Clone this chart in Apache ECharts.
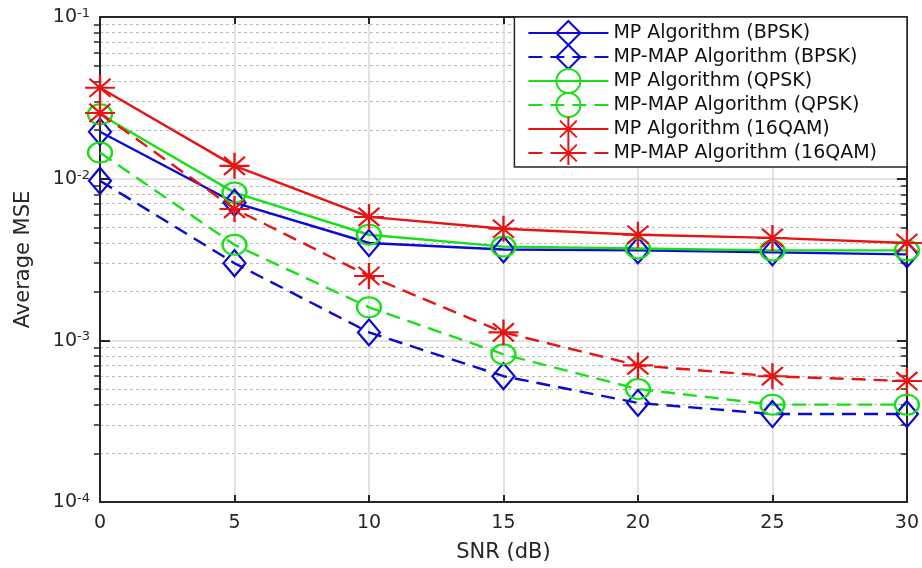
<!DOCTYPE html>
<html>
<head>
<meta charset="utf-8">
<script src="https://cdn.jsdelivr.net/npm/echarts@6/dist/echarts.min.js"></script>
<style>
  html, body { margin: 0; padding: 0; background: #fff; }
  #chart { width: 922px; height: 568px; }
</style>
</head>
<body>
<div id="chart"></div>
<script>
// SNR 横轴
const snr = [0, 5, 10, 15, 20, 25, 30];
// 各算法平均 MSE
const mpBpsk = [0.0195, 0.0071, 0.0040, 0.00365, 0.0036, 0.0035, 0.0034];
const mapBpsk = [0.0097, 0.0030, 0.00112, 0.00060, 0.00041, 0.00035, 0.00035];
const mpQpsk = [0.025, 0.0082, 0.0045, 0.0038, 0.0037, 0.0036, 0.0036];
const mapQpsk = [0.0145, 0.0039, 0.0016, 0.00082, 0.00050, 0.00040, 0.00040];
const mp16 = [0.0365, 0.012, 0.0058, 0.0049, 0.0045, 0.0043, 0.0040];
const map16 = [0.0255, 0.0065, 0.0025, 0.00112, 0.00070, 0.00060, 0.00056];
// 刻度
const majorTicks = [0.0001, 0.001, 0.01, 0.1];
const minorTicks = [0.0002, 0.0003, 0.0004, 0.0005, 0.0006, 0.0007, 0.0008, 0.0009,
  0.002, 0.003, 0.004, 0.005, 0.006, 0.007, 0.008, 0.009,
  0.02, 0.03, 0.04, 0.05, 0.06, 0.07, 0.08, 0.09];

const FONT = 'DejaVu Sans';
const TXT = '#262626';
const BLUE = '#0a0ad2';
const GREEN = '#18e018';
const RED = '#e81414';
const DIAMOND = 'diamond';
const CIRCLE = 'path://M0,10A10,10 0 1 1 20,10A10,10 0 1 1 0,10Z';
const STAR = 'path://M0,10L20,10M10,0L10,20M3,3L17,17M17,3L3,17';

function mk(name, arr, color, dashed, symbol, size) {
  return {
    name: name,
    type: 'line',
    data: snr.map((x, i) => [x, arr[i]]),
    symbol: symbol,
    symbolSize: size,
    showAllSymbol: true,
    lineStyle: { color: color, width: 2.4, type: dashed ? [14, 8] : 'solid' },
    itemStyle: { color: 'transparent', borderColor: color, borderWidth: 2.2 }
  };
}

let chart = echarts.init(document.getElementById('chart'));
chart.setOption({
  animation: false,
  textStyle: { fontFamily: FONT },
  grid: { left: 100, right: 15, top: 17, bottom: 65 },
  legend: {
    orient: 'vertical',
    right: 15,
    top: 17,
    itemWidth: 80,
    itemHeight: 30,
    itemGap: -2,
    padding: [3, 30, 1, 13],
    backgroundColor: '#fff',
    borderColor: TXT,
    borderWidth: 1.5,
    borderRadius: 0,
    textStyle: { fontFamily: FONT, fontSize: 19, color: '#111' },
    data: ['MP Algorithm (BPSK)', 'MP-MAP Algorithm (BPSK)', 'MP Algorithm (QPSK)',
      'MP-MAP Algorithm (QPSK)', 'MP Algorithm (16QAM)', 'MP-MAP Algorithm (16QAM)']
  },
  xAxis: [
    {
      type: 'value', min: 0, max: 30, interval: 5,
      name: 'SNR (dB)', nameLocation: 'middle', nameGap: 40,
      nameTextStyle: { fontFamily: FONT, fontSize: 21, color: TXT },
      axisLine: { lineStyle: { color: TXT, width: 2 } },
      axisTick: { inside: true, length: 7, lineStyle: { color: TXT, width: 2 } },
      axisLabel: { fontFamily: FONT, fontSize: 19, color: TXT, margin: 12 },
      splitLine: { show: true, lineStyle: { color: '#dadada', width: 1.5 } }
    },
    {
      type: 'value', position: 'top', min: 0, max: 30, interval: 5,
      axisLine: { lineStyle: { color: TXT, width: 2 } },
      axisTick: { inside: true, length: 7, lineStyle: { color: TXT, width: 2 } },
      axisLabel: { show: false },
      splitLine: { show: false }
    }
  ],
  yAxis: [
    {
      type: 'log', logBase: 10, min: 0.0001, max: 0.1,
      name: 'Average MSE', nameLocation: 'middle', nameGap: 66, nameRotate: 90,
      nameTextStyle: { fontFamily: FONT, fontSize: 21, color: TXT },
      axisLine: { lineStyle: { color: TXT, width: 2 } },
      axisTick: { inside: true, length: 10, customValues: majorTicks, lineStyle: { color: TXT, width: 2 } },
      axisLabel: {
        customValues: majorTicks,
        margin: 10,
        formatter: function (v) {
          return '{b|10}{s|' + Math.round(Math.log10(v)) + '}';
        },
        rich: {
          b: { fontFamily: FONT, fontSize: 19, color: TXT, lineHeight: 20, verticalAlign: 'bottom' },
          s: { fontFamily: FONT, fontSize: 13, color: TXT, lineHeight: 14, verticalAlign: 'top', padding: [0, 0, 14, 0] }
        }
      },
      splitLine: { show: true, lineStyle: { color: '#dadada', width: 1.5 } }
    },
    {
      type: 'log', logBase: 10, min: 0.0001, max: 0.1,
      axisLine: { show: false },
      axisTick: { inside: true, length: 6, customValues: minorTicks, lineStyle: { color: TXT, width: 1.5 } },
      axisLabel: { show: false },
      splitLine: { show: true, lineStyle: { color: '#b8b8b8', width: 1, type: [3, 3] } }
    },
    {
      type: 'log', logBase: 10, min: 0.0001, max: 0.1, position: 'right',
      axisLine: { lineStyle: { color: TXT, width: 2 } },
      axisTick: { inside: true, length: 10, customValues: majorTicks, lineStyle: { color: TXT, width: 2 } },
      axisLabel: { show: false },
      splitLine: { show: false }
    },
    {
      type: 'log', logBase: 10, min: 0.0001, max: 0.1, position: 'right',
      axisLine: { show: false },
      axisTick: { inside: true, length: 6, customValues: minorTicks, lineStyle: { color: TXT, width: 1.5 } },
      axisLabel: { show: false },
      splitLine: { show: false }
    }
  ],
  series: [
    mk('MP Algorithm (BPSK)', mpBpsk, BLUE, false, DIAMOND, [22, 26]),
    mk('MP-MAP Algorithm (BPSK)', mapBpsk, BLUE, true, DIAMOND, [22, 26]),
    mk('MP Algorithm (QPSK)', mpQpsk, GREEN, false, CIRCLE, [24, 20]),
    mk('MP-MAP Algorithm (QPSK)', mapQpsk, GREEN, true, CIRCLE, [24, 20]),
    mk('MP Algorithm (16QAM)', mp16, RED, false, STAR, [30, 26]),
    mk('MP-MAP Algorithm (16QAM)', map16, RED, true, STAR, [30, 26])
  ]
});
</script>
</body>
</html>
